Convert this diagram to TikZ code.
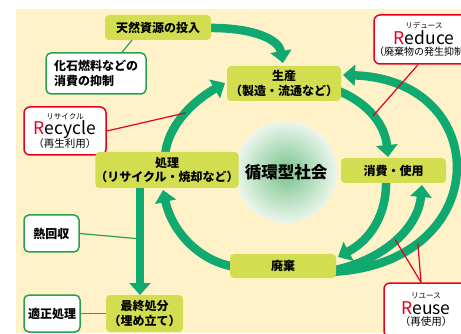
\documentclass[tikz,border=0pt]{standalone}
\usepackage{fontspec}
\setmainfont{Noto Sans CJK JP}
\usetikzlibrary{arrows.meta}
\definecolor{bgy}{RGB}{255,242,200}
\definecolor{ygreen}{RGB}{210,222,80}
\definecolor{agreen}{RGB}{16,170,112}
\definecolor{lgreen}{RGB}{40,160,80}
\definecolor{myred}{RGB}{228,0,30}
\definecolor{cin}{RGB}{120,195,140}
\definecolor{cout}{RGB}{236,246,236}
\newcommand{\rsmall}[1]{{\fontsize{7.5}{8}\selectfont #1}}
\newcommand{\rbig}[1]{{\fontsize{17.5}{17}\selectfont #1}}
\begin{document}
\begin{tikzpicture}[x=1pt,y=-1pt,
  gbox/.style={fill=ygreen, rounded corners=4pt, inner sep=0pt, align=center,
    font=\fontsize{12}{14.5}\selectfont\bfseries},
  wbox/.style={fill=white, draw=lgreen, line width=1.5pt, rounded corners=5pt, inner sep=0pt,
    font=\fontsize{12}{15}\selectfont\bfseries},
  rbox/.style={fill=white, draw=myred, line width=1.5pt, rounded corners=6pt, inner sep=0pt, align=center,
    font=\fontsize{10.5}{12}\selectfont},
  flow/.style={draw=agreen, line width=8.5pt, -{Triangle[width=21pt,length=12pt]}},
  gline/.style={draw=lgreen, line width=1.2pt},
  rline/.style={draw=myred, line width=1.2pt}]
\useasboundingbox (0,0) rectangle (461,334);
\fill[bgy] (16,9) rectangle (461,333);
\shade[inner color=cin, outer color=cout] (286,172) circle[radius=51pt];
\node[font=\fontsize{16.5}{18}\selectfont\bfseries] (soc) at (286,172) {循環型社会};

% flows
\draw[flow] (205,28) .. controls (255,27) and (279,40) .. (283,63);
\draw[flow] (165,156) .. controls (167,128) and (190,103) .. coordinate[pos=0.55] (rcy) (225,83);
\draw[flow] (336,90) .. controls (368,102) and (385,125) .. coordinate[pos=0.5] (rdc) (388,157);
\draw[flow] (386,180) .. controls (387,215) and (370,240) .. (338,257);
\draw[flow] (330,271) .. controls (380,262) and (418,230) .. coordinate[pos=0.52] (ru1) (422,185);
\draw[flow] (330,272) .. controls (495,265) and (495,80) .. coordinate[pos=0.23] (ru2) (343,75);
\draw[flow] (236,267) .. controls (200,262) and (172,232) .. (163,190);
\draw[flow] (140,185) -- coordinate[pos=0.49] (heat) (140,295);

% boxes
\node[gbox, minimum width=106pt, minimum height=25pt] (nat) at (158,27.5) {天然資源の投入};
\node[wbox, minimum width=100pt, minimum height=41pt, align=left] (fos) at (96,73.5) {化石燃料などの\\消費の抑制};
\node[rbox, minimum width=82pt, minimum height=48pt] (rec) at (65,131)
  {\rsmall{リサイクル}\\[0.5pt]\rbig{\textcolor{myred}{R}ecycle}\\[-1pt]（再生利用）};
\node[gbox, minimum width=114pt, minimum height=35pt] (pro) at (284,83.5) {生産\\（製造・流通など）};
\node[rbox, minimum width=94pt, minimum height=49pt, font=\fontsize{10}{12}\selectfont] (red) at (424,39.5)
  {\rsmall{リデュース}\\[0.5pt]\rbig{\textcolor{myred}{R}educe}\\[-1pt]（廃棄物の発生抑制）};
\node[gbox, minimum width=114pt, minimum height=36pt] (trt) at (167,170) {処理\\（リサイクル・焼却など）};
\node[gbox, minimum width=105pt, minimum height=25pt] (con) at (393.5,170.5) {消費・使用};
\node[wbox, minimum width=55pt, minimum height=37pt] (hr) at (51.5,233.5) {熱回収};
\node[gbox, minimum width=106pt, minimum height=24pt] (was) at (283,266) {廃棄};
\node[gbox, minimum width=77pt, minimum height=37pt] (fin) at (144.5,313.5) {最終処分\\（埋め立て）};
\node[wbox, minimum width=56pt, minimum height=37pt] (prp) at (52,313.5) {適正処理};
\node[rbox, minimum width=84pt, minimum height=54pt] (reu) at (426,310)
  {\rsmall{リユース}\\[2pt]\rbig{\textcolor{myred}{R}euse}\\[-1pt]（再使用）};

% connectors
\draw[gline] ([xshift=26pt]fos.north) -- ([xshift=-26pt]nat.south);
\draw[gline] (hr.east) -- (heat);
\draw[gline] (prp.east) -- (fin.west);
\draw[rline] (rec.east) -- (rcy);
\draw[rline] ([xshift=-6pt]red.south) -- (rdc);
\draw[rline] ([xshift=-5pt]reu.north) -- (ru1);
\draw[rline] ([xshift=-5pt]reu.north) -- (ru2);
\end{tikzpicture}
\end{document}
